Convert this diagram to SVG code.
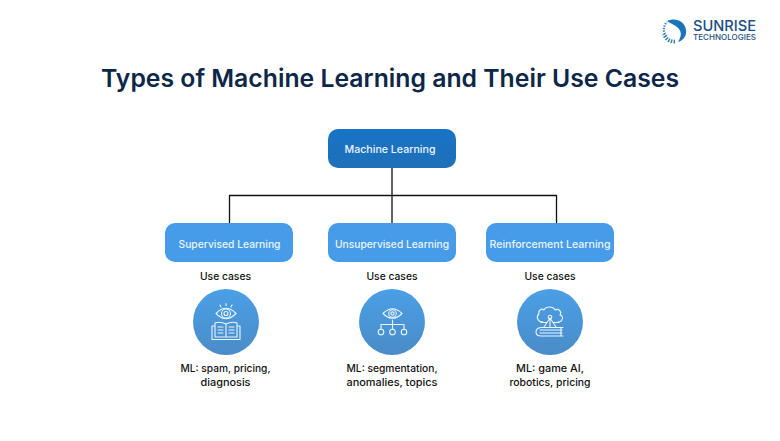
<svg xmlns="http://www.w3.org/2000/svg" width="780" height="441" viewBox="0 0 780 441">
<style>
text{font-family:Inter,"Noto Sans","DejaVu Sans",sans-serif;text-anchor:middle}
.t{font-size:24.500px;font-weight:600;fill:#0d2748}
.n{font-size:10.500px;font-weight:500;fill:#e9f4fd}
.k{font-size:10px;font-weight:500;fill:#111}
.b{fill:#479cea}
.c{fill:url(#g)}
.i{fill:none;stroke:#eaf6fe;stroke-width:1.100;stroke-linecap:round;stroke-linejoin:round}
.w{fill:none;stroke:#111;stroke-width:1.300}
.l{text-anchor:start;font-weight:500;fill:#1c4f85}
</style>
<defs>
<linearGradient id="g" x1="0" y1="0" x2="0" y2="1"><stop offset="0" stop-color="#4a9fe6"/><stop offset="1" stop-color="#4a8cc8"/></linearGradient>
<linearGradient id="m" x1="0" y1="0" x2="0" y2="1"><stop offset="0" stop-color="#1873c7"/><stop offset="1" stop-color="#1f70b8"/></linearGradient>
</defs>
<rect width="780" height="441" fill="#fff"/>
<g id="logo">
<path d="M667 21C675 17 685 21 686 30C687 37 682 41 678 42C681 37 682 33 679 29C676 25 671 24 667 21Z" fill="#1b75bb"/>
<path d="M666.500 36A10 10 0 0 1 667 22" fill="none" stroke="#3f7fb0" stroke-width="2.200" stroke-dasharray="1.300 1.200"/>
<path d="M675 41.500A10.500 10.500 0 0 1 664 34" fill="none" stroke="#3f7fb0" stroke-width="3.800" stroke-dasharray="1.500 1.200"/>
<text class="l" x="693" y="31" style="font-size:14.500px" textLength="63" lengthAdjust="spacingAndGlyphs">SUNRISE</text>
<text class="l" x="693" y="40" style="font-size:7.500px" textLength="63" lengthAdjust="spacingAndGlyphs">TECHNOLOGIES</text>
</g>
<text class="t" x="390" y="87" textLength="578" lengthAdjust="spacingAndGlyphs">Types of Machine Learning and Their Use Cases</text>
<g id="connectors">
<path class="w" d="M392 167V223M229.500 223V195.500H556.500V223"/>
</g>
<g id="root"><rect x="328" y="129" width="128" height="39" rx="10" fill="url(#m)"/><text class="n" x="390" y="153" textLength="91" lengthAdjust="spacingAndGlyphs">Machine Learning</text></g>
<g id="supervised"><rect class="b" x="165" y="223" width="128" height="39" rx="10"/><text class="n" x="229.500" y="247.500" textLength="102" lengthAdjust="spacingAndGlyphs">Supervised Learning</text></g>
<g id="unsupervised"><rect class="b" x="328" y="223" width="128" height="39" rx="10"/><text class="n" x="392" y="247.500" textLength="114" lengthAdjust="spacingAndGlyphs">Unsupervised Learning</text></g>
<g id="reinforcement"><rect class="b" x="486" y="223" width="128" height="39" rx="10"/><text class="n" x="550" y="247.500" textLength="121" lengthAdjust="spacingAndGlyphs">Reinforcement Learning</text></g>
<g id="uc1"><text class="k" x="225.500" y="280" textLength="51" lengthAdjust="spacingAndGlyphs">Use cases</text>
<circle class="c" cx="226" cy="322" r="33"/>
<g class="i"><path d="M216 313.500Q226 303 236 313.500Q226 324 216 313.500Z"/><circle cx="226" cy="313.500" r="4.500"/><circle cx="226" cy="313.500" r="2"/><path d="M221 307l-1-2M226 305.500v-2M231 307l1-2"/>
<path d="M226 324Q220 321 215 323V337H226ZM226 324Q232 321 237 323V337H226ZM215 326H212V339.500H240V326H237"/><path d="M218 327H223M218 330H223M218 333H223M229 327H234M229 330H234M229 333H234"/></g>
<text class="k" x="225.500" y="372" textLength="90" lengthAdjust="spacingAndGlyphs">ML: spam, pricing,</text><text class="k" x="225.500" y="386" textLength="50" lengthAdjust="spacingAndGlyphs">diagnosis</text></g>
<g id="uc2"><text class="k" x="392" y="280" textLength="51" lengthAdjust="spacingAndGlyphs">Use cases</text>
<circle class="c" cx="392" cy="322" r="33"/>
<g class="i"><path d="M383 313.500Q392.500 304 402 313.500Q392.500 323 383 313.500Z"/><circle cx="392.500" cy="313.500" r="3.800"/><circle cx="392.500" cy="313.500" r="1.600"/><path d="M392.500 320V328M381 329V324.500H404V329M392.500 324.500V329"/><circle cx="381" cy="332" r="2.800"/><circle cx="392.500" cy="332" r="2.800"/><circle cx="404" cy="332" r="2.800"/></g>
<text class="k" x="392" y="372" textLength="91" lengthAdjust="spacingAndGlyphs">ML: segmentation,</text><text class="k" x="392" y="386" textLength="91" lengthAdjust="spacingAndGlyphs">anomalies, topics</text></g>
<g id="uc3"><text class="k" x="550" y="280" textLength="51" lengthAdjust="spacingAndGlyphs">Use cases</text>
<circle class="c" cx="550" cy="322" r="33"/>
<g class="i"><path d="M543 322C537 322 536 316 539 314C538 310 542 308 544 310C546 306 553 306 555 310C559 308 562 312 560 315C564 316 563 322 558 322"/><path d="M550 318V327M550 318L544 327M550 318L556 327M541 322.500L547 322.500M553 322.500H559"/><circle cx="550" cy="317" r="1.800"/><path d="M563 327.500H541Q536 328 536 332Q536 336 541 336H563M540 330H562M540 333H562M561 327.500V336"/></g>
<text class="k" x="550" y="372" textLength="68" lengthAdjust="spacingAndGlyphs">ML: game AI,</text><text class="k" x="550" y="386" textLength="81" lengthAdjust="spacingAndGlyphs">robotics, pricing</text></g>
</svg>
